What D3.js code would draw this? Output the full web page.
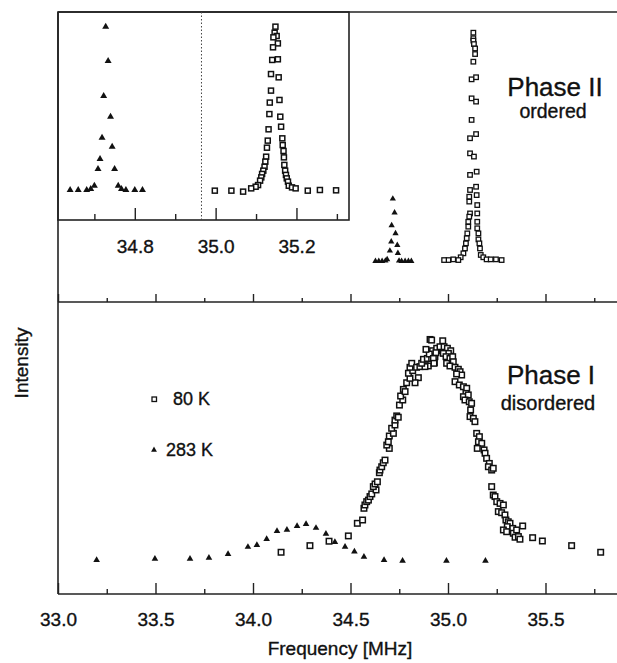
<!DOCTYPE html>
<html lang="en">
<head>
<meta charset="UTF-8">
<title>NQR spectra</title>
<script src="https://cdn.jsdelivr.net/npm/d3@7"></script>
<style>
  body{ margin:0; background:#fff; }
  text{ font-family: "Liberation Sans", Arial, Helvetica, sans-serif; fill:#111; stroke:#111; stroke-width:0.35px; }
  .frame{ stroke:#222; stroke-width:1.6px; fill:none; }
  .tick line{ stroke:#222; stroke-width:1.4px; }
  .sq{ fill:#fff; stroke:#111; }
  .tri{ fill:#111; }
</style>
</head>
<body>
<svg width="617" height="663"></svg>
<script>
// ---- data: [frequency MHz, intensity a.u.] ----

// phase II (ordered), main panel, 80 K
let phase2_80K = [
  [35.130,0.997],[35.130,0.973],[35.130,0.963],[35.133,0.948],[35.139,0.929],[35.139,0.905],
  [35.130,0.872],[35.121,0.796],[35.144,0.805],[35.121,0.714],[35.144,0.700],[35.121,0.621],
  [35.113,0.542],[35.144,0.560],[35.113,0.477],[35.133,0.463],[35.113,0.384],[35.147,0.398],
  [35.113,0.319],[35.144,0.333],[35.109,0.290],[35.147,0.297],[35.109,0.269],[35.150,0.254],
  [35.113,0.218],[35.150,0.218],[35.109,0.204],[35.104,0.182],[35.150,0.182],[35.104,0.161],
  [35.150,0.154],[35.099,0.132],[35.156,0.132],[35.096,0.111],[35.156,0.106],[35.092,0.089],
  [35.161,0.089],[35.087,0.067],[35.164,0.067],[35.079,0.046],[35.168,0.039],[35.065,0.029],
  [35.181,0.029],[35.053,0.017],[35.198,0.020],[35.027,0.020],[35.002,0.017],[34.980,0.017],
  [35.219,0.020],[35.246,0.020],[35.275,0.017]
];
// phase II (ordered), main panel, 283 K
let phase2_283K = [
  [34.628,0.012],[34.645,0.012],[34.662,0.012],[34.679,0.014],[34.688,0.020],[34.702,0.057],
  [34.709,0.096],[34.711,0.166],[34.717,0.281],[34.726,0.221],[34.731,0.132],[34.740,0.081],
  [34.743,0.047],[34.749,0.014],[34.762,0.012],[34.780,0.012],[34.797,0.012],[34.812,0.012]
];

// inset, both lines scaled to the same height
let inset_80K = [
  [35.148,0.996],[35.146,0.959],[35.151,0.939],[35.143,0.931],[35.154,0.894],[35.142,0.870],
  [35.140,0.793],[35.154,0.797],[35.137,0.707],[35.156,0.687],[35.137,0.606],[35.158,0.549],
  [35.134,0.533],[35.133,0.463],[35.160,0.447],[35.162,0.386],[35.131,0.370],[35.165,0.315],
  [35.129,0.301],[35.166,0.274],[35.127,0.258],[35.168,0.238],[35.125,0.203],[35.169,0.199],
  [35.123,0.173],[35.170,0.153],[35.121,0.142],[35.172,0.118],[35.118,0.118],[35.174,0.092],
  [35.115,0.098],[35.176,0.071],[35.113,0.077],[35.179,0.051],[35.110,0.057],[35.181,0.026],
  [35.105,0.030],[35.189,0.016],[35.099,0.020],[35.198,0.010],[35.088,0.010],[35.068,-0.010],
  [35.039,-0.004],[34.998,-0.004],[35.228,-0.004],[35.258,0.000],[35.298,-0.002]
];
let inset_283K = [
  [34.640,0],[34.660,0],[34.681,0],[34.691,0.006],[34.700,0.026],[34.709,0.128],[34.714,0.189],
  [34.719,0.319],[34.723,0.573],[34.728,0.996],[34.734,0.787],[34.740,0.447],[34.744,0.264],
  [34.750,0.128],[34.759,0.026],[34.767,0.006],[34.778,0],[34.800,0],[34.819,0]
];

// phase I (disordered), 80 K
let phase1_80K = [
  [34.144,0.035],[34.292,0.065],[34.390,0.085],[34.489,0.109],[34.535,0.166],[34.562,0.181],
  [34.569,0.234],[34.574,0.249],[34.583,0.264],[34.592,0.271],[34.600,0.287],[34.609,0.299],
  [34.631,0.317],[34.617,0.332],[34.626,0.344],[34.638,0.354],[34.648,0.395],[34.651,0.407],
  [34.660,0.422],[34.668,0.440],[34.677,0.452],[34.699,0.505],[34.686,0.520],[34.694,0.535],
  [34.699,0.561],[34.720,0.573],[34.711,0.596],[34.728,0.611],[34.728,0.633],[34.737,0.652],
  [34.745,0.646],[34.751,0.701],[34.768,0.724],[34.757,0.742],[34.771,0.772],[34.780,0.762],
  [34.788,0.802],[34.848,0.825],[34.831,0.802],[34.805,0.822],[34.797,0.845],[34.819,0.857],
  [34.805,0.872],[34.814,0.890],[34.839,0.872],[34.856,0.875],[34.930,0.893],[34.911,0.893],
  [34.899,0.878],[34.882,0.875],[34.865,0.890],[34.874,0.908],[34.894,0.912],[34.916,0.912],
  [34.933,0.920],[34.942,0.947],[34.921,0.947],[34.904,0.932],[34.887,0.953],[34.908,0.998],
  [34.916,0.995],[34.973,0.992],[34.942,0.958],[34.959,0.965],[34.980,0.965],[34.997,0.958],
  [35.014,0.947],[35.002,0.935],[34.976,0.935],[34.938,0.938],[34.925,0.912],[34.928,0.890],
  [34.990,0.920],[35.010,0.912],[35.024,0.920],[35.027,0.897],[34.993,0.890],[35.010,0.878],
  [35.036,0.872],[35.053,0.863],[35.062,0.852],[35.070,0.837],[35.044,0.842],[35.036,0.807],
  [35.058,0.792],[35.079,0.784],[35.096,0.777],[35.092,0.754],[35.079,0.739],[35.104,0.747],
  [35.087,0.724],[35.109,0.716],[35.121,0.709],[35.116,0.679],[35.113,0.649],[35.130,0.641],
  [35.138,0.626],[35.147,0.573],[35.161,0.558],[35.156,0.535],[35.173,0.528],[35.150,0.505],
  [35.185,0.498],[35.190,0.483],[35.198,0.460],[35.212,0.437],[35.207,0.422],[35.224,0.407],
  [35.232,0.415],[35.224,0.332],[35.232,0.294],[35.241,0.287],[35.250,0.264],[35.267,0.256],
  [35.284,0.249],[35.258,0.219],[35.275,0.214],[35.292,0.204],[35.297,0.181],[35.309,0.173],
  [35.318,0.166],[35.304,0.151],[35.332,0.143],[35.284,0.136],[35.301,0.128],[35.335,0.121],
  [35.352,0.136],[35.344,0.103],[35.361,0.106],[35.383,0.154],[35.369,0.094],[35.434,0.101],
  [35.484,0.086],[35.634,0.065],[35.783,0.035]
];
// phase I (disordered), 283 K
let phase1_283K = [
  [33.198,0.000],[33.497,0.005],[33.677,0.005],[33.774,0.010],[33.872,0.027],[33.974,0.059],
  [34.020,0.068],[34.070,0.095],[34.123,0.131],[34.174,0.136],[34.226,0.154],[34.272,0.163],
  [34.323,0.145],[34.374,0.118],[34.420,0.081],[34.472,0.060],[34.520,0.038],[34.569,0.014],
  [34.672,0.000],[34.767,-0.004],[34.992,-0.004],[35.192,-0.004]
];

// tick labels
let mainTicks = [33.0, 33.5, 34.0, 34.5, 35.0, 35.5];
let mainMinor = [33.25, 33.75, 34.25, 34.75, 35.25, 35.75];
let insetTicks = [34.8, 35.0, 35.2];
let insetMinor = [34.7, 34.9, 35.1, 35.3];

// ---- drawing ----
let svg = d3.select('svg');

// scales
let x = d3.scaleLinear().domain([33, 35.9]).range([58, 623.5]);
let yTop = d3.scaleLinear().domain([0, 1]).range([264, 32]);
let yBot = d3.scaleLinear().domain([0, 1]).range([560, 339]);
let xIn = d3.scaleLinear().domain([34.61, 35.33]).range([58, 349]);
let yIn = d3.scaleLinear().domain([0, 1]).range([190, 26]);

// frame lines
let frame = svg.append('g');
frame.append('line').attr('class','frame').attr('x1',58).attr('x2',617).attr('y1',12).attr('y2',12);
frame.append('line').attr('class','frame').attr('x1',58).attr('x2',617).attr('y1',302).attr('y2',302);
frame.append('line').attr('class','frame').attr('x1',58).attr('x2',617).attr('y1',594).attr('y2',594);
frame.append('line').attr('class','frame').attr('x1',58).attr('x2',58).attr('y1',12).attr('y2',594);

// bottom axis (ticks pointing in)
let fmt = d3.format('.1f');
let ax = svg.append('g').attr('transform','translate(0,594)')
  .call(d3.axisBottom(x).tickValues(mainTicks).tickFormat(fmt).tickSizeInner(-11).tickSizeOuter(0).tickPadding(19));
ax.append('g').call(d3.axisBottom(x).tickValues(mainMinor).tickFormat('').tickSizeInner(-5).tickSizeOuter(0));
ax.selectAll('.domain').remove();
ax.selectAll('text').style('font-size','19px').attr('fill','#111');

// ticks on the panel separator
let sep = svg.append('g').attr('transform','translate(0,302)');
sep.append('g').call(d3.axisBottom(x).tickValues(mainTicks).tickFormat('').tickSizeInner(-8).tickSizeOuter(0));
sep.append('g').call(d3.axisBottom(x).tickValues(mainMinor).tickFormat('').tickSizeInner(-4).tickSizeOuter(0));
sep.selectAll('.domain').remove();

// inset box
let inset = svg.append('g');
inset.append('rect').attr('class','frame').attr('x',58).attr('y',12).attr('width',291).attr('height',208);
inset.append('line').attr('x1',xIn(34.965)).attr('x2',xIn(34.965)).attr('y1',12).attr('y2',220)
  .attr('stroke','#444').attr('stroke-width',1).attr('stroke-dasharray','1.5,2');
let iax = inset.append('g').attr('transform','translate(0,220)')
  .call(d3.axisBottom(xIn).tickValues(insetTicks).tickFormat(fmt).tickSizeInner(-12).tickSizeOuter(0).tickPadding(20));
iax.append('g').call(d3.axisBottom(xIn).tickValues(insetMinor).tickFormat('').tickSizeInner(-6).tickSizeOuter(0));
iax.selectAll('.domain').remove();
iax.selectAll('text').style('font-size','19px').attr('fill','#111');

// markers
let tri = (size) => d3.symbol().type(d3.symbolTriangle).size(size)();

function squares(data, xs, ys, side, sw){
  svg.append('g').selectAll('rect').data(data).join('rect')
    .attr('class','sq')
    .attr('x', d => xs(d[0]) - side/2)
    .attr('y', d => ys(d[1]) - side/2)
    .attr('width', side).attr('height', side)
    .attr('stroke-width', sw);
}
function triangles(data, xs, ys, size){
  svg.append('g').selectAll('path').data(data).join('path')
    .attr('class','tri')
    .attr('d', tri(size))
    .attr('transform', d => `translate(${xs(d[0])},${ys(d[1])})`);
}

triangles(phase1_283K, x, yBot, 19);
squares(phase1_80K, x, yBot, 5.5, 1.5);
triangles(phase2_283K, x, yTop, 17);
squares(phase2_80K, x, yTop, 4.5, 1.3);
triangles(inset_283K, xIn, yIn, 21);
squares(inset_80K, xIn, yIn, 5, 1.5);

// legend
svg.append('rect').attr('class','sq').attr('x',152).attr('y',397).attr('width',4.5).attr('height',4.5).attr('stroke-width',1.3);
svg.append('text').attr('x',173).attr('y',405).style('font-size','18px').text('80 K');
svg.append('path').attr('class','tri').attr('d',tri(15)).attr('transform','translate(154,450)');
svg.append('text').attr('x',166).attr('y',456).style('font-size','18px').text('283 K');

// phase labels
svg.append('text').attr('x',555).attr('y',96).attr('text-anchor','middle').style('font-size','26px').text('Phase II');
svg.append('text').attr('x',553).attr('y',118).attr('text-anchor','middle').style('font-size','19.5px').text('ordered');
svg.append('text').attr('x',551).attr('y',384).attr('text-anchor','middle').style('font-size','26px').text('Phase I');
svg.append('text').attr('x',548).attr('y',410).attr('text-anchor','middle').style('font-size','20px').text('disordered');

// axis titles
svg.append('text').attr('x',340).attr('y',655).attr('text-anchor','middle').style('font-size','19px').text('Frequency [MHz]');
svg.append('text').attr('transform','translate(28,363) rotate(-90)').attr('text-anchor','middle').style('font-size','19px').text('Intensity');
</script>
</body>
</html>
